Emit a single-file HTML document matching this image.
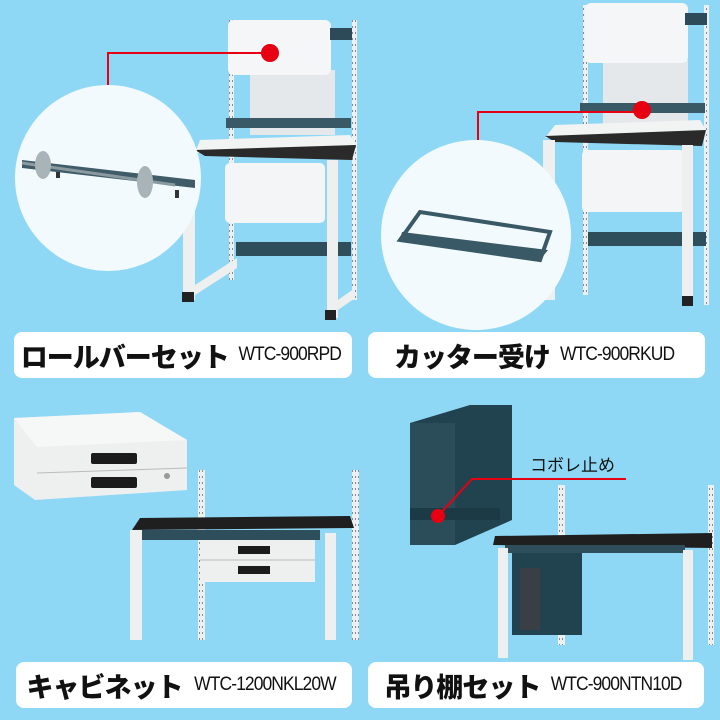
<!DOCTYPE html>
<html><head><meta charset="utf-8"><style>
body{margin:0;background:#8ed8f6;width:720px;height:720px;overflow:hidden;font-family:"Liberation Sans","Noto Sans CJK JP",sans-serif}
.lb{position:absolute;background:#fff;border-radius:8px;height:46px;display:flex;align-items:center;justify-content:center;white-space:nowrap}
.lb b{font-size:27px;font-weight:900;color:#111;letter-spacing:-1px}
.lb span{font-size:19px;color:#111;margin-left:5px;letter-spacing:-1px;transform:scaleX(0.92);display:inline-block}
</style></head><body>
<svg width="720" height="720" style="position:absolute;left:0;top:0">
<defs><pattern id="pt" width="3" height="6" patternUnits="userSpaceOnUse"><rect width="3" height="6" fill="#eef0f0"/><rect x="1" y="2" width="1" height="2" fill="#889"/></pattern></defs>
<!-- TOP LEFT -->
<rect x="229" y="20" width="5" height="260" fill="url(#pt)"/>
<rect x="352" y="20" width="5" height="280" fill="url(#pt)"/>
<rect x="250" y="70" width="85" height="65" fill="#e4e8ea"/>
<rect x="228" y="20" width="103" height="55" rx="6" fill="#f4f6f7"/>
<rect x="330" y="28" width="22" height="12" fill="#2c4a57"/>
<rect x="226" y="118" width="125" height="10" fill="#3a5966"/>
<polygon points="200,140 350,135 356,145 195,153" fill="#f2f3f3"/>
<polygon points="195,150 356,145 352,160 205,156" fill="#2a2a2a"/>
<rect x="225" y="163" width="100" height="60" rx="5" fill="#f3f5f6"/>
<rect x="236" y="242" width="115" height="14" fill="#2e4e5b"/>
<rect x="183" y="150" width="12" height="150" fill="#eef0f0"/>
<rect x="327" y="160" width="11" height="158" fill="#eef0f0"/>
<polygon points="195,285 237,258 237,268 195,295" fill="#eef0f0"/>
<polygon points="338,300 355,288 355,298 338,310" fill="#eef0f0"/>
<rect x="182" y="292" width="12" height="10" fill="#222"/><rect x="325" y="310" width="11" height="10" fill="#222"/>
<circle cx="108" cy="178" r="93" fill="#f2fafd"/>
<polygon points="22,160 195,180 195,188 22,168" fill="#3f5c68"/>
<line x1="22" y1="163" x2="175" y2="185" stroke="#8a9aa0" stroke-width="3"/>
<ellipse cx="43" cy="165" rx="8" ry="14" fill="#a9b4b8"/><ellipse cx="145" cy="182" rx="8" ry="16" fill="#a9b4b8"/>
<rect x="56" y="172" width="4" height="6" fill="#333"/><rect x="175" y="190" width="4" height="8" fill="#333"/>
<polyline points="108,85 108,53 270,53" fill="none" stroke="#e60012" stroke-width="2"/>
<circle cx="270" cy="53" r="9" fill="#e60012"/>
<!-- TOP RIGHT -->
<rect x="583" y="5" width="5" height="290" fill="url(#pt)"/>
<rect x="704" y="5" width="5" height="300" fill="url(#pt)"/>
<rect x="603" y="60" width="85" height="65" fill="#e4e8ea"/>
<rect x="585" y="3" width="103" height="60" rx="6" fill="#f4f6f7"/>
<rect x="685" y="13" width="22" height="12" fill="#2c4a57"/>
<rect x="580" y="103" width="125" height="10" fill="#3a5966"/>
<polygon points="555,125 700,120 706,130 545,138" fill="#f2f3f3"/>
<polygon points="545,136 706,130 702,146 555,142" fill="#2a2a2a"/>
<rect x="582" y="150" width="103" height="62" rx="5" fill="#f3f5f6"/>
<rect x="588" y="232" width="118" height="14" fill="#2e4e5b"/>
<rect x="543" y="140" width="12" height="160" fill="#eef0f0"/>
<rect x="682" y="145" width="11" height="160" fill="#eef0f0"/>
<rect x="682" y="296" width="11" height="10" fill="#222"/>
<circle cx="476" cy="235" r="95" fill="#f2fafd"/>
<polygon points="400,240 420,212 550,232 540,260" fill="none" stroke="#3a5966" stroke-width="4"/>
<polygon points="400,240 540,260 548,250 402,232" fill="#3a5966"/>
<polyline points="478,140 478,112 642,112" fill="none" stroke="#e60012" stroke-width="2"/>
<circle cx="642" cy="110" r="9" fill="#e60012"/>
<!-- BOTTOM LEFT -->
<polygon points="14,418 140,412 187,440 187,490 35,500 14,485" fill="#eeefef"/>
<polygon points="14,418 140,412 187,440 37,447" fill="#f6f7f7"/>
<line x1="37" y1="473" x2="187" y2="468" stroke="#bbb"/>
<rect x="91" y="453" width="46" height="11" rx="2" fill="#1b1b1b"/><rect x="91" y="477" width="46" height="11" rx="2" fill="#1b1b1b"/>
<circle cx="167" cy="476" r="3" fill="#999"/>
<rect x="198" y="470" width="7" height="170" fill="url(#pt)"/>
<rect x="352" y="470" width="7" height="170" fill="url(#pt)"/>
<polygon points="140,518 350,516 354,528 132,530" fill="#1f1f1f"/>
<rect x="140" y="530" width="180" height="10" fill="#2e4e5b"/>
<rect x="130" y="530" width="12" height="110" fill="#eef0f0"/>
<rect x="325" y="533" width="11" height="107" fill="#eef0f0"/>
<rect x="200" y="540" width="115" height="42" fill="#eeefef"/>
<line x1="200" y1="560" x2="315" y2="560" stroke="#bbb"/>
<rect x="238" y="546" width="32" height="8" fill="#1b1b1b"/><rect x="238" y="566" width="32" height="8" fill="#1b1b1b"/>
<!-- BOTTOM RIGHT -->
<polygon points="410,423 470,405 512,405 512,520 455,545 410,545" fill="#21434f"/>
<rect x="410" y="423" width="45" height="122" fill="#2b4d59"/>
<rect x="410" y="508" width="90" height="12" fill="#1b3a45"/>
<rect x="558" y="485" width="7" height="160" fill="url(#pt)"/>
<rect x="708" y="485" width="6" height="160" fill="url(#pt)"/>
<polygon points="495,536 712,533 712,548 493,545" fill="#1f1f1f"/>
<rect x="505" y="545" width="180" height="8" fill="#2e4e5b"/>
<rect x="498" y="548" width="10" height="110" fill="#eef0f0"/>
<rect x="683" y="550" width="10" height="110" fill="#eef0f0"/>
<rect x="512" y="553" width="70" height="82" fill="#21434f"/>
<rect x="520" y="568" width="20" height="62" fill="#3a3f45"/>
<polyline points="438,516 472,479 626,479" fill="none" stroke="#e60012" stroke-width="2"/>
<circle cx="438" cy="516" r="7" fill="#e60012"/>
<text x="530" y="471" font-size="17" fill="#111" font-family="Liberation Sans,Noto Sans CJK JP,sans-serif">コボレ止め</text>
</svg>
<div class="lb" style="left:14px;top:332px;width:338px"><b>ロールバーセット</b><span>WTC-900RPD</span></div>
<div class="lb" style="left:368px;top:332px;width:337px"><b>カッター受け</b><span>WTC-900RKUD</span></div>
<div class="lb" style="left:16px;top:662px;width:336px"><b>キャビネット</b><span>WTC-1200NKL20W</span></div>
<div class="lb" style="left:368px;top:662px;width:336px"><b>吊り棚セット</b><span>WTC-900NTN10D</span></div>
</body></html>
